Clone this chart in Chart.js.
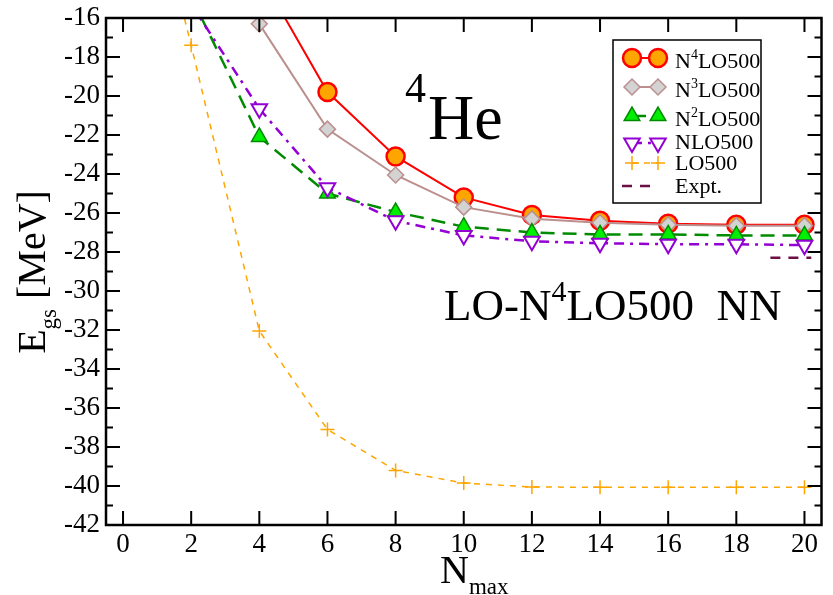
<!DOCTYPE html>
<html>
<head>
<meta charset="utf-8">
<title>4He ground-state energy vs Nmax</title>
<script src="https://cdn.jsdelivr.net/npm/chart.js@4.4.0/dist/chart.umd.min.js"></script>
<style>
  html, body { margin: 0; padding: 0; background: #fff; }
  #wrap { width: 833px; height: 595px; }
</style>
</head>
<body>
<div id="wrap"><canvas id="he4Chart" width="833" height="595"></canvas></div>
<script>
// Model-space size (N_max) shared by every chiral order
const nmax = [0, 2, 4, 6, 8, 10, 12, 14, 16, 18, 20];

// Ground-state energies in MeV (null = not computed)
const n4lo500 = [null, null, -13.7, -19.8, -23.1, -25.2, -26.1, -26.4, -26.55, -26.6, -26.6];
const n3lo500 = [null, null, -16.3, -21.7, -24.05, -25.7, -26.3, -26.5, -26.6, -26.65, -26.65];
const n2lo500 = [null, -14.9, -22.1, -25.0, -25.95, -26.7, -27.0, -27.1, -27.1, -27.15, -27.15];
const nlo500  = [null, -15.3, -20.65, -24.7, -26.4, -27.15, -27.45, -27.55, -27.6, -27.6, -27.65];
const lo500   = [-3.5, -17.4, -32.05, -37.1, -39.2, -39.85, -40.05, -40.07, -40.07, -40.07, -40.07];

// Experimental value, drawn as a short dashed segment at the right edge
const exptN = [19, 20.2];
const exptE = [-28.3, -28.3];

// Axis ticks
const xTicks = [0, 2, 4, 6, 8, 10, 12, 14, 16, 18, 20];
const yTicks = [-16, -18, -20, -22, -24, -26, -28, -30, -32, -34, -36, -38, -40, -42];
const yMinorTicks = [-17, -19, -21, -23, -25, -27, -29, -31, -33, -35, -37, -39, -41];

// Legend labels: [text, 'sup' | ''] pieces
const legendLabels = [
    [['N', ''], ['4', 'sup'], ['LO500', '']],
    [['N', ''], ['3', 'sup'], ['LO500', '']],
    [['N', ''], ['2', 'sup'], ['LO500', '']],
    [['NLO500', '']],
    [['LO500', '']],
    [['Expt.', '']]
];

const SERIF = '"Liberation Serif", serif';

function toPoints(xs, ys) {
    return xs.map((x, i) => ({ x: x, y: ys[i] }));
}

// Draw a run of text pieces with super/subscripts, returns width
function drawRich(ctx, parts, x, y, size, small) {
    let cx = x;
    parts.forEach(([t, kind]) => {
        const s = kind ? small : size;
        const dy = kind === 'sup' ? -size * 0.42 : (kind === 'sub' ? size * 0.28 : 0);
        ctx.font = s + 'px ' + SERIF;
        ctx.fillText(t, cx, y + dy);
        cx += ctx.measureText(t).width;
    });
    return cx - x;
}

function richWidth(ctx, parts, size, small) {
    let w = 0;
    parts.forEach(([t, kind]) => {
        ctx.font = (kind ? small : size) + 'px ' + SERIF;
        w += ctx.measureText(t).width;
    });
    return w;
}

function markerAt(ctx, ds, x, y) {
    ctx.save();
    ctx.setLineDash([]);
    ctx.fillStyle = ds.pointBackgroundColor;
    ctx.strokeStyle = ds.pointBorderColor;
    ctx.lineWidth = ds.pointBorderWidth;
    Chart.helpers.drawPoint(ctx, {
        pointStyle: ds.pointStyle,
        radius: ds.pointRadius,
        rotation: ds.pointRotation || 0,
        borderWidth: ds.pointBorderWidth
    }, x, y);
    ctx.restore();
}

// Frame, inward ticks on all four sides, legend box and text labels
const decorations = {
    id: 'decorations',
    afterDraw(chart) {
        const ctx = chart.ctx;
        const area = chart.chartArea;
        const xs = chart.scales.x;
        const ys = chart.scales.y;

        ctx.save();
        ctx.strokeStyle = '#000';
        ctx.lineWidth = 2.5;
        ctx.strokeRect(area.left, area.top, area.right - area.left, area.bottom - area.top);

        ctx.lineWidth = 2;
        ctx.beginPath();
        xTicks.forEach(v => {
            const px = xs.getPixelForValue(v);
            ctx.moveTo(px, area.bottom); ctx.lineTo(px, area.bottom - 14);
            ctx.moveTo(px, area.top); ctx.lineTo(px, area.top + 14);
        });
        yTicks.forEach(v => {
            const py = ys.getPixelForValue(v);
            ctx.moveTo(area.left, py); ctx.lineTo(area.left + 14, py);
            ctx.moveTo(area.right, py); ctx.lineTo(area.right - 14, py);
        });
        yMinorTicks.forEach(v => {
            const py = ys.getPixelForValue(v);
            ctx.moveTo(area.left, py); ctx.lineTo(area.left + 7, py);
            ctx.moveTo(area.right, py); ctx.lineTo(area.right - 7, py);
        });
        ctx.stroke();

        // axis titles
        ctx.fillStyle = '#000';
        ctx.textBaseline = 'alphabetic';
        ctx.textAlign = 'left';
        drawRich(ctx, [['N', ''], ['max', 'sub']], 440, 583, 40, 23);

        const yTitle = [['E', ''], ['gs', 'sub'], [' [MeV]', '']];
        const yw = richWidth(ctx, yTitle, 40, 23);
        ctx.save();
        ctx.translate(45, 272 + yw / 2);
        ctx.rotate(-Math.PI / 2);
        drawRich(ctx, yTitle, 0, 0, 40, 23);
        ctx.restore();

        // nucleus and interaction labels
        ctx.font = '42px ' + SERIF;
        ctx.fillText('4', 405, 102);
        ctx.font = '64px ' + SERIF;
        ctx.fillText('He', 428, 139);
        drawRich(ctx, [['LO-N', ''], ['4', 'sup'], ['LO500  NN', '']], 444, 320, 45, 30);

        // legend
        const lx = 613, ly = 40, lw = 148, lh = 163;
        ctx.fillStyle = '#fff';
        ctx.fillRect(lx, ly, lw, lh);
        ctx.strokeStyle = '#000';
        ctx.lineWidth = 1.5;
        ctx.strokeRect(lx, ly, lw, lh);

        const rowMarkY = [58, 87, 116, 143, 163, 186];
        const rowTextY = [68, 97, 126, 149, 170, 193];
        chart.data.datasets.forEach((ds, i) => {
            const my = rowMarkY[i];
            ctx.save();
            ctx.strokeStyle = ds.borderColor;
            ctx.lineWidth = ds.borderWidth;
            ctx.setLineDash(ds.borderDash || []);
            ctx.beginPath();
            if (ds.pointRadius > 0) {
                ctx.moveTo(632, my); ctx.lineTo(658, my);
            } else {
                ctx.moveTo(622, my); ctx.lineTo(658, my);
            }
            ctx.stroke();
            ctx.restore();
            if (ds.pointRadius > 0) {
                markerAt(ctx, ds, 632, my);
                markerAt(ctx, ds, 658, my);
            }
            ctx.fillStyle = '#000';
            drawRich(ctx, legendLabels[i], 675, rowTextY[i], 22, 14);
        });
        ctx.restore();
    }
};

function makeChart() {
    const ctx = document.getElementById('he4Chart').getContext('2d');

    new Chart(ctx, {
        type: 'line',
        data: {
            datasets: [
                {
                    label: 'N4LO500',
                    data: toPoints(nmax, n4lo500),
                    borderColor: '#ff0000',
                    borderWidth: 2,
                    pointStyle: 'circle',
                    pointRadius: 9,
                    pointBackgroundColor: '#ffa500',
                    pointBorderColor: '#ff0000',
                    pointBorderWidth: 2.5,
                    order: 5
                },
                {
                    label: 'N3LO500',
                    data: toPoints(nmax, n3lo500),
                    borderColor: '#bc8f8f',
                    borderWidth: 2,
                    pointStyle: 'rectRot',
                    pointRadius: 8,
                    pointBackgroundColor: '#d3d3d3',
                    pointBorderColor: '#bc8f8f',
                    pointBorderWidth: 1.5,
                    order: 4
                },
                {
                    label: 'N2LO500',
                    data: toPoints(nmax, n2lo500),
                    borderColor: '#008b00',
                    borderWidth: 2.5,
                    borderDash: [14, 8],
                    pointStyle: 'triangle',
                    pointRadius: 9,
                    pointBackgroundColor: '#00ee00',
                    pointBorderColor: '#008b00',
                    pointBorderWidth: 1.5,
                    order: 3
                },
                {
                    label: 'NLO500',
                    data: toPoints(nmax, nlo500),
                    borderColor: '#9400d3',
                    borderWidth: 2.5,
                    borderDash: [10, 6, 3, 6],
                    pointStyle: 'triangle',
                    pointRotation: 180,
                    pointRadius: 9,
                    pointBackgroundColor: '#ffffff',
                    pointBorderColor: '#9400d3',
                    pointBorderWidth: 2,
                    order: 2
                },
                {
                    label: 'LO500',
                    data: toPoints(nmax, lo500),
                    borderColor: '#ffa500',
                    borderWidth: 1.5,
                    borderDash: [6, 6],
                    pointStyle: 'cross',
                    pointRadius: 7,
                    pointBackgroundColor: '#ffa500',
                    pointBorderColor: '#ffa500',
                    pointBorderWidth: 1.5,
                    order: 1
                },
                {
                    label: 'Expt.',
                    data: toPoints(exptN, exptE),
                    borderColor: '#6b0f45',
                    borderWidth: 2.5,
                    borderDash: [10, 8],
                    pointRadius: 0,
                    order: 0
                }
            ]
        },
        options: {
            responsive: false,
            animation: false,
            clip: 0,
            layout: { padding: { left: 0, top: 18, right: 2, bottom: 0 } },
            plugins: {
                legend: { display: false },
                tooltip: { enabled: false }
            },
            scales: {
                x: {
                    type: 'linear',
                    min: -0.5,
                    max: 20.5,
                    grid: { display: false, drawTicks: false },
                    border: { display: false },
                    ticks: {
                        color: '#000',
                        padding: 4,
                        font: { family: SERIF, size: 27 }
                    },
                    afterBuildTicks: s => { s.ticks = xTicks.map(v => ({ value: v })); },
                    afterFit: s => { s.height = 70; s.paddingLeft = 0; s.paddingRight = 0; }
                },
                y: {
                    type: 'linear',
                    min: -42,
                    max: -16,
                    grid: { display: false, drawTicks: false },
                    border: { display: false },
                    ticks: {
                        color: '#000',
                        padding: 6,
                        font: { family: SERIF, size: 27 }
                    },
                    afterBuildTicks: s => { s.ticks = yTicks.map(v => ({ value: v })); },
                    afterFit: s => { s.width = 106; s.paddingTop = 0; s.paddingBottom = 0; }
                }
            }
        },
        plugins: [decorations]
    });
}

document.addEventListener('DOMContentLoaded', makeChart);
</script>
</body>
</html>
